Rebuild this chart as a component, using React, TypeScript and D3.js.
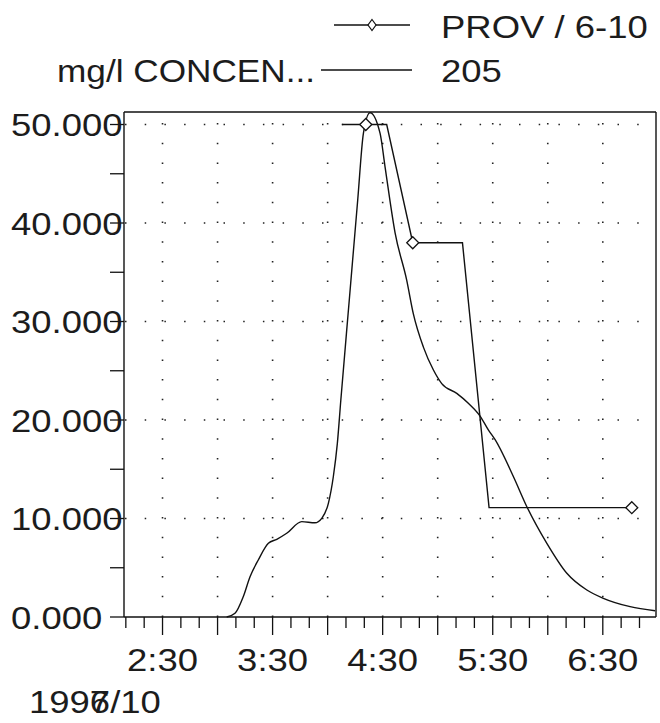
import React from "react";
import * as d3 from "d3";

// ---- data (times in minutes after midnight, 1996-07-10) ----
const curveTimes = [
  185.0, 189.5, 194.0, 197.7, 202.2, 207.7, 212.3, 217.7, 225.9, 233.1, 236.8,
  240.4, 243.1, 245.3, 247.2, 251.8, 256.4, 259.5, 263.1, 268.6, 271.3, 276.8,
  283.1, 286.7, 292.2, 297.6, 302.2, 310.4, 316.7, 323.1, 327.6, 331.3, 341.3,
  348.6, 359.5, 370.4, 381.3, 390.3, 404.9, 418.5,
];
const curveValues = [
  0, 0.38, 2.06, 4.09, 5.79, 7.48, 7.89, 8.5, 9.68, 9.57, 10.02, 11.54, 14.24,
  17.63, 22.03, 32.18, 42.34, 49.11, 51.2, 49.1, 45.7, 38.98, 34.2, 30.8, 27.4,
  25.1, 23.7, 22.7, 21.7, 20.4, 19.0, 18.0, 14.24, 11.2, 7.48, 4.44, 2.74, 1.9,
  1.05, 0.64,
];
const provTimes = [247.9, 260.8, 272.2, 286.4, 313.5, 328.0, 405.8];
const provValues = [50, 50, 50, 38, 38, 11.1, 11.1];
const provMarkers = [false, true, false, true, false, false, true];

const yTickValues = [0, 5, 10, 15, 20, 25, 30, 35, 40, 45, 50];
const yLabelValues = [0, 10, 20, 30, 40, 50];
const yLabels = ["0.000", "10.000", "20.000", "30.000", "40.000", "50.000"];
const yGridValues = [10, 20, 30, 40, 50];
const legendLabels = ["PROV / 6-10", "205"];
const yTitle = "mg/l CONCEN...";
const dateA = "1996";
const dateB = "7/10";

const domainStart = 129; // 2:09
const domainEnd = 419; // 6:59
const yMax = 51.27;

const toDate = (m: number) => new Date(1996, 6, 10, 0, 0, Math.round(m * 60));

const FONT = "'Liberation Sans', Arial, Helvetica, sans-serif";
const SX = 1.14;

const T = ({ x, y, anchor = "start", sx = SX, children }: any) => (
  <text
    transform={`translate(${x},${y}) scale(${sx},1)`}
    textAnchor={anchor}
    fontFamily={FONT}
    fontSize={32}
    fill="#1c1c1c"
  >
    {children}
  </text>
);

const diamond = (cx: number, cy: number, hw: number, hh: number) =>
  `M${cx},${cy - hh}L${cx + hw},${cy}L${cx},${cy + hh}L${cx - hw},${cy}Z`;

export default function App() {
  const L = 124, R = 656, TOP = 112, B = 617;
  const x = d3.scaleTime().domain([toDate(domainStart), toDate(domainEnd)]).range([L, R]);
  const y = d3.scaleLinear().domain([0, yMax]).range([B, TOP]);

  const ticks = x.ticks(d3.timeMinute.every(10) as any);
  const fmt = d3.timeFormat("%-H:%M");

  const curveData = curveTimes.map((t, i) => ({ t: toDate(t), v: curveValues[i] }));
  const provData = provTimes.map((t, i) => ({ t: toDate(t), v: provValues[i], m: provMarkers[i] }));

  const line205 = d3
    .line<any>()
    .x((d) => x(d.t))
    .y((d) => y(d.v))
    .curve(d3.curveMonotoneX)(curveData) as string;
  const lineProv = d3
    .line<any>()
    .x((d) => x(d.t))
    .y((d) => y(d.v))(provData) as string;

  const gridTimes = ticks.filter((d) => d.getMinutes() % 30 === 0);

  return (
    <svg
      width={660}
      height={723}
      style={{ position: "absolute", left: 0, top: 0, background: "#fff" }}
    >
      <rect x={0} y={0} width={660} height={723} fill="#fff" />
      {/* grid */}
      <g stroke="#222" strokeWidth={1.6} strokeDasharray="1.5,18.2" fill="none">
        {yGridValues.map((v) => (
          <line key={"h" + v} x1={L} x2={R} y1={y(v)} y2={y(v)} strokeDashoffset={18.7} />
        ))}
        {gridTimes.map((d, i) => (
          <line key={"v" + i} x1={x(d)} x2={x(d)} y1={B} y2={TOP} />
        ))}
      </g>
      {/* frame */}
      <g stroke="#111" strokeWidth={1.4} fill="none">
        <line x1={L} x2={R} y1={TOP} y2={TOP} />
        <line x1={R} x2={R} y1={TOP} y2={B} />
        <line x1={L} x2={L} y1={TOP} y2={B} />
        <line x1={L} x2={R} y1={B} y2={B} />
      </g>
      {/* y ticks */}
      <g stroke="#111" strokeWidth={1.3}>
        {yTickValues.map((v) => (
          <line key={v} x1={L - 14} x2={L} y1={y(v)} y2={y(v)} />
        ))}
      </g>
      {yLabelValues.map((v, i) => (
        <T key={v} x={11} y={y(v) + 11.5}>
          {yLabels[i]}
        </T>
      ))}
      {/* x ticks */}
      <g stroke="#111" strokeWidth={1.3}>
        {ticks.map((d, i) => (
          <line
            key={i}
            x1={x(d)}
            x2={x(d)}
            y1={B}
            y2={B + (d.getMinutes() % 30 === 0 ? 18 : 11)}
          />
        ))}
      </g>
      {ticks
        .filter((d) => d.getMinutes() === 30)
        .map((d, i) => (
          <T key={i} x={x(d)} y={671} anchor="middle">
            {fmt(d)}
          </T>
        ))}
      <T x={29} y={713}>{dateA}</T>
      <T x={29 + 3 * 0.556 * 32 * SX} y={713}>{dateB}</T>

      {/* series */}
      <path d={line205} fill="none" stroke="#111" strokeWidth={1.4} />
      <path d={lineProv} fill="none" stroke="#111" strokeWidth={1.4} />
      {provData
        .filter((d) => d.m)
        .map((d, i) => (
          <path
            key={i}
            d={diamond(x(d.t), y(d.v), 6, 6)}
            fill="#fff"
            stroke="#111"
            strokeWidth={1.3}
          />
        ))}

      {/* legend */}
      <line x1={334} x2={410} y1={25} y2={25} stroke="#111" strokeWidth={1.3} />
      <path d={diamond(372, 25, 4, 5.5)} fill="#fff" stroke="#111" strokeWidth={1.2} />
      <T x={441} y={38}>{legendLabels[0]}</T>
      <line x1={321} x2={412} y1={70} y2={70} stroke="#111" strokeWidth={1.3} />
      <T x={57} y={82} sx={1.1}>{yTitle}</T>
      <T x={441} y={82}>{legendLabels[1]}</T>
    </svg>
  );
}
